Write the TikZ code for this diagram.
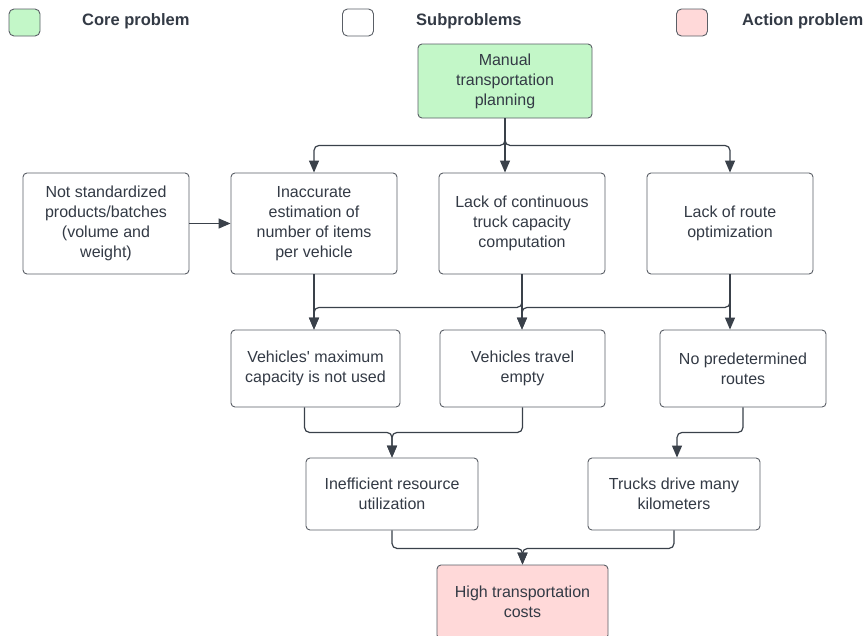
\documentclass[tikz,border=0pt]{standalone}
\usepackage{fontspec}
\setmainfont{Liberation Sans}[Ligatures=TeXOff]
\usetikzlibrary{arrows.meta}
\definecolor{txt}{HTML}{333A45}
\definecolor{edge}{HTML}{3A414A}
\definecolor{frame}{HTML}{5A5F66}
\definecolor{corefill}{HTML}{C3F7C8}
\definecolor{actfill}{HTML}{FFD9D9}
\begin{document}
\begin{tikzpicture}[x=1pt,y=-1pt,
  box/.style={draw=frame, line width=0.9pt, rounded corners=4pt, fill=white,
    align=center, text=txt, font=\fontsize{16}{20}\selectfont, inner sep=0pt},
  conn/.style={draw=edge, line width=1.2pt, rounded corners=5pt,
    -{Triangle[length=12pt,width=10pt]}},
  legbox/.style={draw=frame, line width=0.9pt, rounded corners=5pt,
    minimum width=31pt, minimum height=27pt, inner sep=0pt},
  legtext/.style={font=\bfseries\fontsize{16.5}{18}\selectfont, text=txt,
    anchor=west, inner sep=0pt}]
\useasboundingbox[fill=white] (0,0) rectangle (865,635);

% legend
\node[legbox, fill=corefill] (lgcore) at (24.5,22.5) {};
\node[legtext] (lgcoret) at (82,21) {Core problem};
\node[legbox, fill=white] (lgsub) at (358,22.5) {};
\node[legtext] (lgsubt) at (416,21) {Subproblems};
\node[legbox, fill=actfill] (lgact) at (692,22.5) {};
\node[legtext] (lgactt) at (742,21) {Action problem};

% core problem
\node[box, fill=corefill, minimum width=174pt, minimum height=74pt] (manual) at (505,81)
  {Manual\\transportation\\planning};

% first level
\node[box, minimum width=166pt, minimum height=101pt] (nstd) at (106,223.5)
  {Not standardized\\products/batches\\(volume and\\weight)};
\node[box, minimum width=166pt, minimum height=101pt] (inacc) at (314,223.5)
  {Inaccurate\\estimation of\\number of items\\per vehicle};
\node[box, minimum width=166pt, minimum height=101pt] (lackc) at (522,223.5)
  {Lack of continuous\\truck capacity\\computation};
\node[box, minimum width=166pt, minimum height=101pt] (lackr) at (730,223.5)
  {Lack of route\\optimization};

% second level
\node[box, minimum width=169pt, minimum height=77pt] (vmax) at (315.5,368.5)
  {Vehicles' maximum\\capacity is not used};
\node[box, minimum width=165pt, minimum height=77pt] (vempty) at (522.5,368.5)
  {Vehicles travel\\empty};
\node[box, minimum width=166pt, minimum height=77pt] (nopred) at (743,368.5)
  {No predetermined\\routes};

% third level
\node[box, minimum width=172pt, minimum height=72pt] (ineff) at (392,494)
  {Inefficient resource\\utilization};
\node[box, minimum width=172pt, minimum height=72pt] (trucks) at (674,494)
  {Trucks drive many\\kilometers};

% action problem
\node[box, fill=actfill, minimum width=171pt, minimum height=74pt] (high) at (522.5,602)
  {High transportation\\costs};

% connectors
\draw[conn] (manual.south) -- ++(0,27) -| (inacc.north);
\draw[conn] (manual.south) -- (manual.south |- lackc.north);
\draw[conn] (manual.south) -- ++(0,27) -| (lackr.north);
\draw[conn] (nstd) -- (inacc);

\draw[conn] (inacc.south) -- (inacc.south |- vmax.north);
\draw[conn] (lackc.south) -- ++(0,33) -| (inacc.south |- vmax.north);
\draw[conn] (lackc.south) -- (lackc.south |- vempty.north);
\draw[conn] (lackr.south) -- ++(0,33) -| (lackc.south |- vempty.north);
\draw[conn] (lackr.south) -- (lackr.south |- nopred.north);

\draw[conn] ([xshift=-11pt]vmax.south) -- ++(0,25) -| (ineff.north);
\draw[conn] (vempty.south) -- ++(0,25) -| (ineff.north);
\draw[conn] (nopred.south) -- ++(0,25) -| ([xshift=3pt]trucks.north);

\draw[conn] (ineff.south) -- ++(0,18) -| (high.north);
\draw[conn] (trucks.south) -- ++(0,18) -| (high.north);
\end{tikzpicture}
\end{document}
